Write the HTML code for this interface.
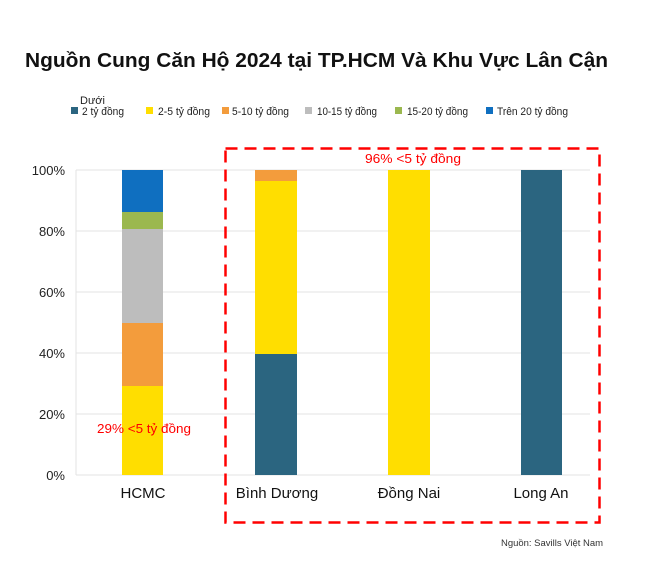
<!DOCTYPE html>
<html><head><meta charset="utf-8"><style>
body{margin:0;background:#fff;font-family:"Liberation Sans",sans-serif;}
</style></head><body>
<svg width="645" height="569" xmlns="http://www.w3.org/2000/svg" font-family="Liberation Sans, sans-serif">
<rect width="645" height="569" fill="#fff"/>
<text x="25" y="67" font-size="20" font-weight="bold" fill="#111" textLength="583" lengthAdjust="spacingAndGlyphs">Nguồn Cung Căn Hộ 2024 tại TP.HCM Và Khu Vực Lân Cận</text>
<g font-size="11" fill="#222">
<text x="80" y="104">Dưới</text>
<rect x="71" y="107" width="7" height="7" fill="#2b6580"/><text x="82" y="115" textLength="42" lengthAdjust="spacingAndGlyphs">2 tỷ đồng</text>
<rect x="146" y="107" width="7" height="7" fill="#ffde00"/><text x="158" y="115" textLength="52" lengthAdjust="spacingAndGlyphs">2-5 tỷ đồng</text>
<rect x="222" y="107" width="7" height="7" fill="#f39c3c"/><text x="232" y="115" textLength="57" lengthAdjust="spacingAndGlyphs">5-10 tỷ đồng</text>
<rect x="305" y="107" width="7" height="7" fill="#bdbdbd"/><text x="317" y="115" textLength="60" lengthAdjust="spacingAndGlyphs">10-15 tỷ đồng</text>
<rect x="395" y="107" width="7" height="7" fill="#9bb84f"/><text x="407" y="115" textLength="61" lengthAdjust="spacingAndGlyphs">15-20 tỷ đồng</text>
<rect x="486" y="107" width="7" height="7" fill="#0f6fc0"/><text x="497" y="115" textLength="71" lengthAdjust="spacingAndGlyphs">Trên 20 tỷ đồng</text>
</g>
<g stroke="#e3e3e3" stroke-width="1">
<line x1="76" y1="170" x2="590" y2="170"/><line x1="76" y1="231" x2="590" y2="231"/>
<line x1="76" y1="292" x2="590" y2="292"/><line x1="76" y1="353" x2="590" y2="353"/>
<line x1="76" y1="414" x2="590" y2="414"/><line x1="76" y1="475" x2="590" y2="475"/>
<line x1="76" y1="170" x2="76" y2="475"/>
</g>
<g font-size="13" fill="#222" text-anchor="end">
<text x="65" y="175">100%</text><text x="65" y="236">80%</text><text x="65" y="297">60%</text>
<text x="65" y="358">40%</text><text x="65" y="419">20%</text><text x="65" y="480">0%</text>
</g>
<rect x="122" y="170" width="41" height="42" fill="#0f6fc0"/>
<rect x="122" y="212" width="41" height="17" fill="#9bb84f"/>
<rect x="122" y="229" width="41" height="94" fill="#bdbdbd"/>
<rect x="122" y="323" width="41" height="63" fill="#f39c3c"/>
<rect x="122" y="386" width="41" height="89" fill="#ffde00"/>
<rect x="255" y="170" width="42" height="11" fill="#f39c3c"/>
<rect x="255" y="181" width="42" height="173" fill="#ffde00"/>
<rect x="255" y="354" width="42" height="121" fill="#2b6580"/>
<rect x="388" y="170" width="42" height="305" fill="#ffde00"/>
<rect x="521" y="170" width="41" height="305" fill="#2b6580"/>
<text x="97" y="433" font-size="12.5" fill="#f00" textLength="94" lengthAdjust="spacingAndGlyphs">29% &lt;5 tỷ đồng</text>
<text x="365" y="163" font-size="12.5" fill="#f00" textLength="96" lengthAdjust="spacingAndGlyphs">96% &lt;5 tỷ đồng</text>
<g font-size="15" fill="#111" text-anchor="middle">
<text x="143" y="498">HCMC</text><text x="277" y="498">Bình Dương</text>
<text x="409" y="498">Đồng Nai</text><text x="541" y="498">Long An</text>
</g>
<rect x="225.5" y="148.5" width="374" height="374" fill="none" stroke="#f00" stroke-width="2.5" stroke-dasharray="12,7"/>
<text x="603" y="546" font-size="9" fill="#333" text-anchor="end" textLength="102" lengthAdjust="spacingAndGlyphs">Nguồn: Savills Việt Nam</text>
</svg>
</body></html>
